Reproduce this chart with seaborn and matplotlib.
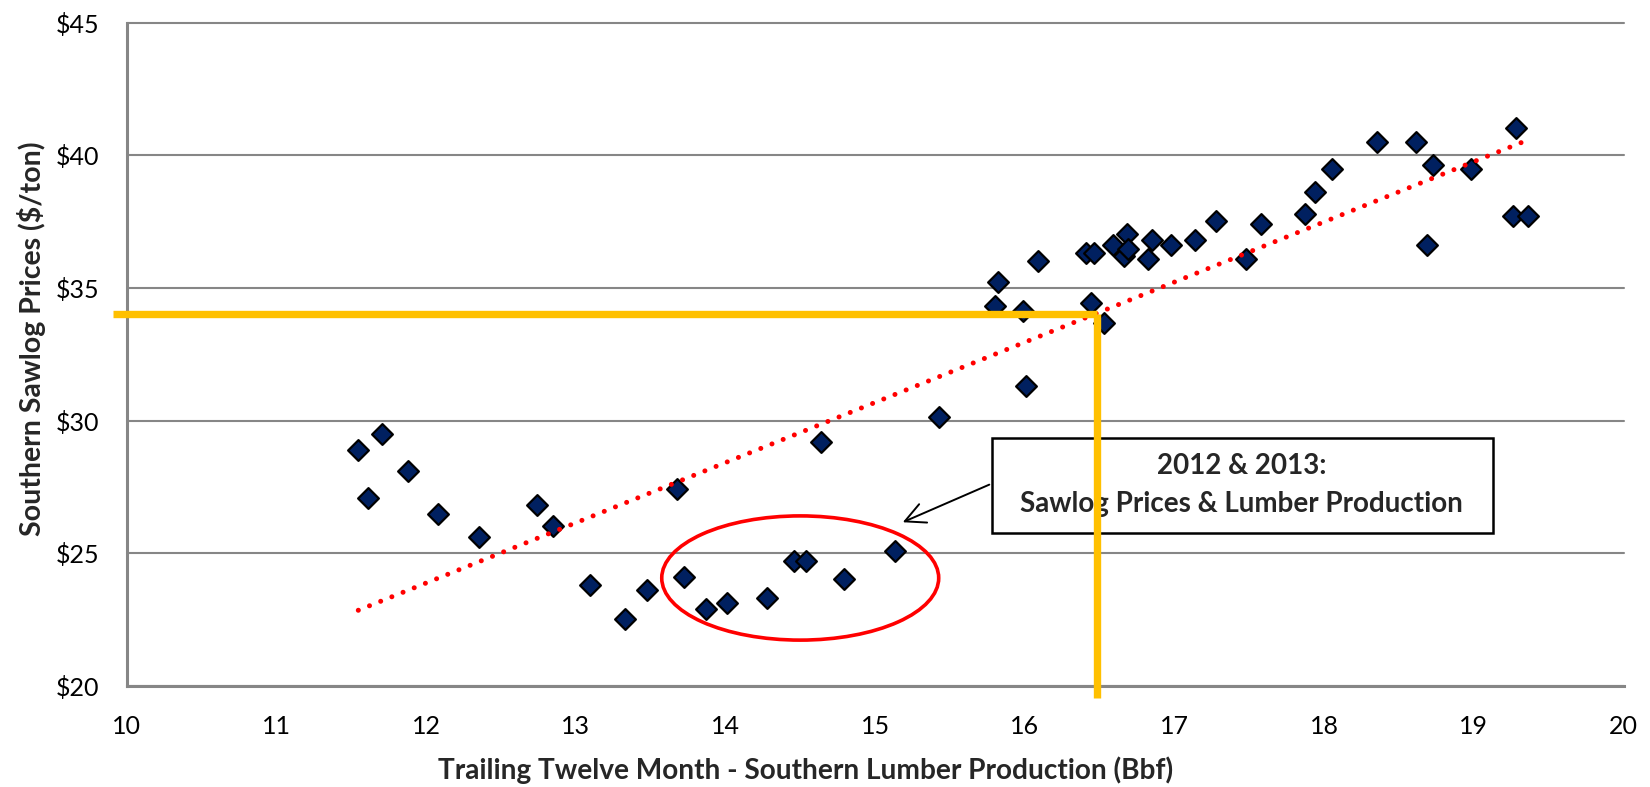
import matplotlib
matplotlib.use("Agg")
import matplotlib.pyplot as plt
from matplotlib.patches import Ellipse, Rectangle
import seaborn as sns
import pandas as pd

# 数据
production = [11.548, 11.613, 11.706, 11.877, 12.078, 12.356, 12.744, 12.846,
              13.098, 13.332, 13.477, 13.677, 13.722, 13.870, 14.010, 14.278,
              14.456, 14.541, 14.642, 14.790, 15.130, 15.426, 15.800, 15.820,
              15.990, 16.010, 16.090, 16.410, 16.440, 16.460, 16.530, 16.590,
              16.660, 16.680, 16.690, 16.820, 16.850, 16.980, 17.140, 17.280,
              17.480, 17.575, 17.870, 17.940, 18.050, 18.350, 18.610, 18.690,
              18.730, 18.980, 19.260, 19.280, 19.360]
price = [28.91, 27.10, 29.51, 28.11, 26.50, 25.61, 26.81, 26.02,
         23.81, 22.52, 23.61, 27.41, 24.12, 22.90, 23.11, 23.30,
         24.71, 24.71, 29.20, 24.02, 25.09, 30.12, 34.32, 35.22,
         34.13, 31.30, 36.00, 36.31, 34.45, 36.31, 33.69, 36.63,
         36.19, 37.04, 36.45, 36.10, 36.82, 36.62, 36.79, 37.52,
         36.10, 37.42, 37.80, 38.61, 39.49, 40.49, 40.49, 36.60,
         39.62, 39.49, 37.71, 41.02, 37.71]
x_ticks = [10, 11, 12, 13, 14, 15, 16, 17, 18, 19, 20]
y_ticks = [20, 25, 30, 35, 40, 45]
guide_x = 16.48
guide_y = 34

df = pd.DataFrame({"production": production, "price": price})

sns.set_theme(style="white")
plt.rcParams['font.family'] = ['Lato', 'DejaVu Sans']

grey = '#868686'
fig = plt.figure(figsize=(16.5, 7.87), dpi=100)
ax = fig.add_axes([0.0767, 0.1283, 0.9073, 0.8431])

sns.scatterplot(data=df, x="production", y="price", marker="D", s=112,
                color="#002060", edgecolor="black", linewidth=1.6, ax=ax, zorder=3)
sns.regplot(data=df, x="production", y="price", scatter=False, ci=None, ax=ax,
            line_kws=dict(color="red", lw=3.6, linestyle=(0, (0.01, 2.4)),
                          dash_capstyle="round", zorder=4))

ax.set_xlim(10, 20)
ax.set_ylim(20, 45)
ax.set_xticks(x_ticks)
ax.set_yticks(y_ticks)
ax.set_yticklabels([f"${v}" for v in y_ticks])
ax.set_xlabel("")
ax.set_ylabel("")
ax.tick_params(axis='both', direction='out', length=6.5, width=1.5, color=grey,
               labelsize=18, labelcolor='black')
ax.tick_params(axis='y', pad=13)
ax.tick_params(axis='x', pad=14)

ax.yaxis.grid(True, color=grey, lw=1.5)
ax.xaxis.grid(False)
for gl in ax.get_ygridlines():
    gl.set_clip_on(False)
ax.set_axisbelow(True)
for side in ['top', 'right']:
    ax.spines[side].set_visible(False)
for side in ['left', 'bottom']:
    ax.spines[side].set_color(grey)
    ax.spines[side].set_linewidth(2.2)

# 红色椭圆
ax.add_patch(Ellipse((14.5, 24.07), 1.85, 4.68, fill=False, ec='red', lw=2.6, zorder=5))

# 注释框
ax.add_patch(Rectangle((15.78, 25.75), 19.125 - 15.78, 29.36 - 25.75,
                       fc='white', ec='black', lw=1.8, zorder=6))
ax.text(17.45, 28.3, "2012 & 2013:", ha='center', va='center', fontsize=20,
        fontweight='bold', zorder=7)
ax.text(17.45, 26.85, "Sawlog Prices & Lumber Production", ha='center', va='center',
        fontsize=20, fontweight='bold', zorder=7)
ax.annotate("", xy=(15.168, 26.13), xytext=(15.78, 27.63),
            arrowprops=dict(arrowstyle='->', color='black', lw=1.4, mutation_scale=36),
            zorder=7)

# 橙色参考线
ax.plot([9.91, guide_x], [guide_y, guide_y], color='#FFC000', lw=5.3,
        solid_capstyle='butt', clip_on=False, zorder=8)
ax.plot([guide_x, guide_x], [guide_y, 19.55], color='#FFC000', lw=5.3,
        solid_capstyle='butt', clip_on=False, zorder=8)

fig.text(0.4885, 0.0216, "Trailing Twelve Month - Southern Lumber Production (Bbf)",
         ha='center', va='center', fontsize=20.2, fontweight='bold')
fig.text(0.019, 0.569, "Southern Sawlog Prices ($/ton)", rotation=90,
         ha='center', va='center', fontsize=20.5, fontweight='bold')

fig.savefig("out.png", dpi=100)
